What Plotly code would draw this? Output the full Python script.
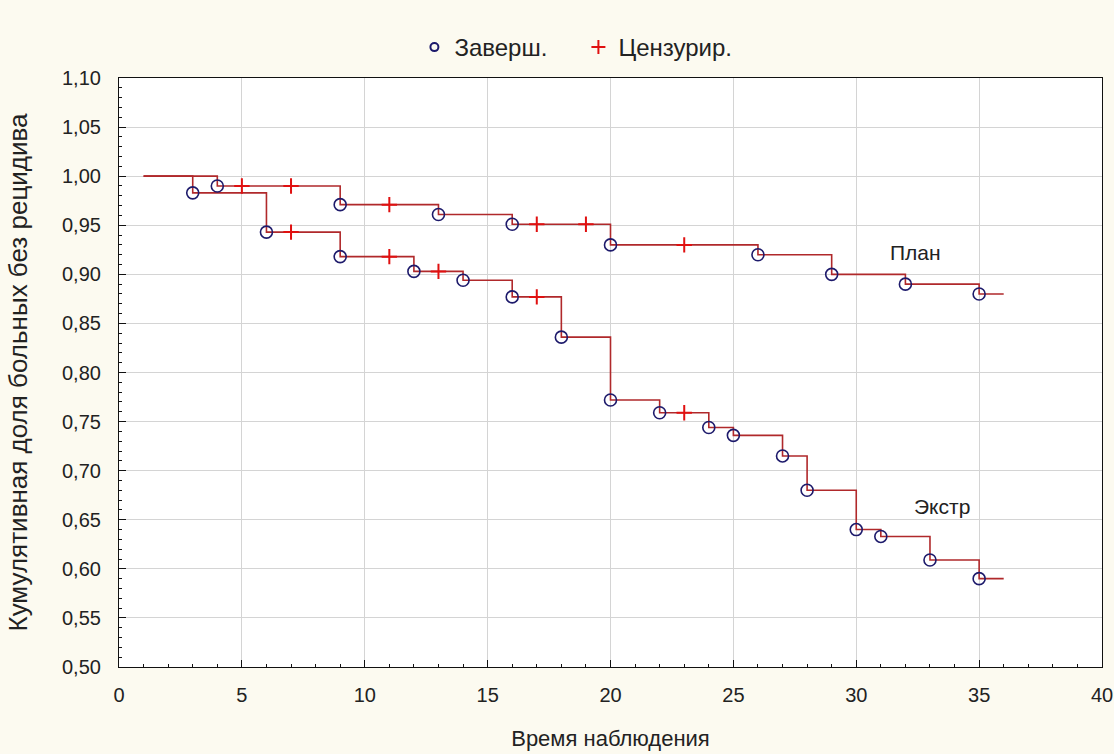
import plotly.graph_objects as go

# Kaplan-Meier style cumulative recurrence-free proportion, two groups
plan_event_t = [4, 9, 13, 16, 20, 26, 29, 32, 35]
plan_event_s = [0.990, 0.971, 0.961, 0.951, 0.930, 0.920, 0.900, 0.890, 0.880]
plan_cens_t = [5, 7, 11, 17, 19, 23]
plan_cens_s = [0.990, 0.990, 0.971, 0.951, 0.951, 0.930]

extr_event_t = [3, 6, 9, 12, 14, 16, 18, 20, 22, 24, 25, 27, 28, 30, 31, 33, 35]
extr_event_s = [0.983, 0.943, 0.918, 0.903, 0.894, 0.877, 0.836, 0.772, 0.759,
                0.744, 0.736, 0.715, 0.680, 0.640, 0.633, 0.609, 0.590]
extr_cens_t = [7, 11, 13, 17, 23]
extr_cens_s = [0.943, 0.918, 0.903, 0.877, 0.759]

t_start, t_end = 1, 36
s_start = 1.0

line_col = "#b0292b"
circ_col = "#1d1a6b"
cens_col = "#e01010"
txt_col = "#222222"
font_fam = "Liberation Sans, Arial, sans-serif"

fig = go.Figure()

# step curves
for ev_t, ev_s in [(plan_event_t, plan_event_s), (extr_event_t, extr_event_s)]:
    fig.add_trace(go.Scatter(
        x=[t_start] + ev_t + [t_end],
        y=[s_start] + ev_s + [ev_s[-1]],
        mode="lines", line=dict(color=line_col, width=1.6, shape="hv"),
        showlegend=False, hoverinfo="skip"))

# completed (event) points
fig.add_trace(go.Scatter(
    x=plan_event_t + extr_event_t, y=plan_event_s + extr_event_s,
    mode="markers", showlegend=False,
    marker=dict(symbol="circle-open", size=12, color=circ_col,
                line=dict(width=1.6, color=circ_col))))

# censored points
fig.add_trace(go.Scatter(
    x=plan_cens_t + extr_cens_t, y=plan_cens_s + extr_cens_s,
    mode="markers", showlegend=False,
    marker=dict(symbol="cross-thin-open", size=11, color=cens_col,
                line=dict(width=2, color=cens_col))))

# legend entries with compact symbols
fig.add_trace(go.Scatter(
    x=[None], y=[None], mode="markers", name="Заверш.",
    marker=dict(symbol="circle-open", size=8, color=circ_col,
                line=dict(width=2, color=circ_col))))
fig.add_trace(go.Scatter(
    x=[None], y=[None], mode="markers", name="Цензурир.",
    marker=dict(symbol="cross-thin-open", size=10, color=cens_col,
                line=dict(width=2, color=cens_col))))

fig.add_annotation(x=32.4, y=0.922, text="План", showarrow=False,
                   font=dict(size=21, color=txt_col, family=font_fam))
fig.add_annotation(x=33.5, y=0.663, text="Экстр", showarrow=False,
                   font=dict(size=21, color=txt_col, family=font_fam))

axis_common = dict(
    showgrid=True, gridcolor="#d4d4d4", gridwidth=1,
    showline=True, linecolor="#111", linewidth=1.2, mirror=True,
    ticks="inside", ticklen=7, tickcolor="#111",
    zeroline=False, tickfont=dict(size=20, color=txt_col, family=font_fam),
)

fig.update_xaxes(
    range=[0, 40], dtick=5, tick0=0, ticklabelstandoff=10,
    title=dict(text="Время наблюдения",
               font=dict(size=22, color=txt_col, family=font_fam), standoff=25),
    minor=dict(dtick=1, ticks="inside", ticklen=3, tickcolor="#111", showgrid=False),
    **axis_common)
fig.update_yaxes(
    range=[0.5, 1.1], dtick=0.05, tick0=0.5, tickformat=".2f", ticklabelstandoff=13,
    title=dict(text="Кумулятивная доля больных без рецидива",
               font=dict(size=26, color=txt_col, family=font_fam), standoff=26),
    minor=dict(dtick=0.01, ticks="inside", ticklen=3, tickcolor="#111", showgrid=False),
    **axis_common)

fig.update_layout(
    width=1114, height=754,
    separators=", ",
    paper_bgcolor="#fcfaf0", plot_bgcolor="#ffffff",
    margin=dict(l=119, r=12, t=78, b=87, autoexpand=False),
    font=dict(family=font_fam, size=20, color=txt_col),
    legend=dict(orientation="h", xref="container", yref="container",
                x=0.372, xanchor="left", y=0.937, yanchor="middle",
                entrywidth=119, entrywidthmode="pixels",
                font=dict(size=24, color=txt_col, family=font_fam),
                bgcolor="rgba(0,0,0,0)"),
)

fig.write_html("out.html")
